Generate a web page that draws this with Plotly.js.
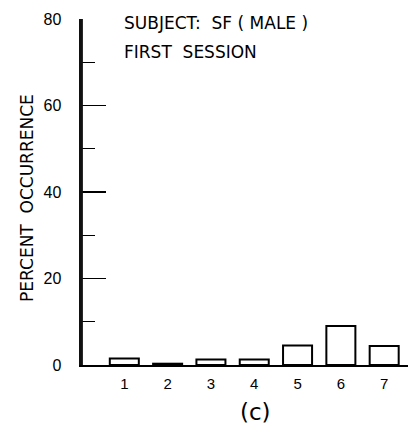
<!DOCTYPE html>
<html>
<head>
<meta charset="utf-8">
<script src="https://cdn.plot.ly/plotly-3.0.1.min.js"></script>
<style>html,body{margin:0;padding:0;background:#fff;}#chart{width:416px;height:433px;}</style>
</head>
<body>
<div id="chart"></div>
<script>
const categories = [1, 2, 3, 4, 5, 6, 7];
const tickLabels = ["1", "2", "3", "4", "5", "6", "7"];
const percentOccurrence = [1.5, 0.3, 1.3, 1.3, 4.5, 9.0, 4.4];
const yTicks = [0, 20, 40, 60, 80];

const NUMFONT = "Liberation Sans, Arial, sans-serif";
const TXTFONT = "DejaVu Sans, Verdana, sans-serif";

const trace = {
  type: "bar",
  x: categories,
  y: percentOccurrence,
  width: 0.67,
  marker: { color: "#ffffff", line: { color: "#000000", width: 2 } },
  hoverinfo: "skip"
};

const layout = {
  width: 416,
  height: 433,
  margin: { l: 81, r: 8, t: 19, b: 68 },
  paper_bgcolor: "#ffffff",
  plot_bgcolor: "#ffffff",
  showlegend: false,
  font: { family: NUMFONT, color: "#000000", size: 16 },
  xaxis: {
    range: [0, 7.55],
    tickmode: "array",
    tickvals: categories,
    ticktext: tickLabels,
    ticks: "",
    showgrid: false,
    zeroline: false,
    showline: true,
    linecolor: "#000000",
    linewidth: 2,
    ticklabelstandoff: 4,
    tickfont: { family: NUMFONT, size: 15, color: "#000000" },
    fixedrange: true
  },
  yaxis: {
    range: [0, 80],
    tickmode: "array",
    tickvals: yTicks,
    ticktext: yTicks.map(String),
    ticks: "inside",
    ticklen: 25,
    tickwidth: 1.3,
    tickcolor: "#000000",
    minor: { dtick: 10, ticks: "inside", ticklen: 14, tickwidth: 1.3, tickcolor: "#000000" },
    showgrid: false,
    zeroline: false,
    showline: true,
    linecolor: "#111111",
    linewidth: 2.5,
    ticklabelstandoff: 14,
    tickfont: { family: NUMFONT, size: 16, color: "#000000" },
    fixedrange: true
  },
  shapes: [
    {
      type: "line", xref: "paper", yref: "paper",
      x0: 0.002, x1: 0.002, y0: 0, y1: 1,
      line: { color: "#111111", width: 2.5 },
      layer: "above"
    }
  ],
  annotations: [
    {
      text: "PERCENT\u00a0\u00a0OCCURRENCE",
      xref: "paper", yref: "paper",
      x: -0.165, y: 0.483,
      xanchor: "center", yanchor: "middle",
      textangle: -90,
      showarrow: false,
      font: { family: TXTFONT, size: 17, color: "#000000" }
    },
    {
      text: "SUBJECT:\u00a0\u00a0SF\u00a0(\u00a0MALE\u00a0)",
      xref: "paper", yref: "paper",
      x: 0.126, y: 0.988,
      xanchor: "left", yanchor: "middle",
      showarrow: false,
      font: { family: TXTFONT, size: 17, color: "#000000" }
    },
    {
      text: "FIRST\u00a0\u00a0SESSION",
      xref: "paper", yref: "paper",
      x: 0.126, y: 0.905,
      xanchor: "left", yanchor: "middle",
      showarrow: false,
      font: { family: TXTFONT, size: 17, color: "#000000" }
    },
    {
      text: "(c)",
      xref: "paper", yref: "paper",
      x: 0.535, y: -0.136,
      xanchor: "center", yanchor: "middle",
      showarrow: false,
      font: { family: TXTFONT, size: 23, color: "#000000" }
    }
  ]
};

Plotly.newPlot("chart", [trace], layout, { displayModeBar: false, staticPlot: true });
</script>
</body>
</html>
